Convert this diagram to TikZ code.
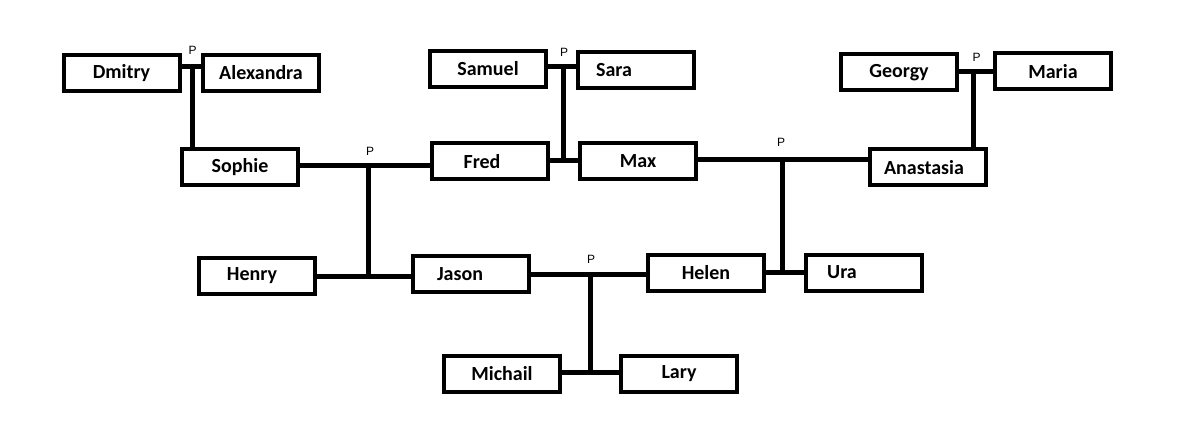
\documentclass[tikz,border=0pt]{standalone}
\usepackage{fontspec}
\setmainfont{Carlito}
\newfontfamily\plabelfont{Liberation Sans}
\usepackage{tikz}
\usetikzlibrary{calc}

\begin{document}
\begin{tikzpicture}[x=1pt,y=-1pt,
  person/.style={draw,line width=4pt,minimum width=116pt,minimum height=36pt,inner sep=0pt,font=\fontsize{20}{22}\selectfont\bfseries},
  link/.style={line width=5pt},
  plabel/.style={inner sep=0pt,font=\fontsize{12}{13}\plabelfont}]
\useasboundingbox (0,0) rectangle (1178,422);
% people
\node[person] (dmitry) at (121.5,73) {Dmitry};
\node[person] (alexandra) at (261,73) {Alexandra};
\node[person] (sophie) at (240,167.5) {Sophie};
\node[person] (samuel) at (488,69) {Samuel};
\node[person] (sara) at (636,70.5) {Sara\kern44pt};
\node[person] (fred) at (490,161.5) {Fred\kern16pt};
\node[person] (max) at (638,161.5) {Max};
\node[person] (georgy) at (899,72.5) {Georgy};
\node[person] (maria) at (1053,71.5) {Maria};
\node[person] (anastasia) at (928,167.5) {Anastasia\kern8pt};
\node[person] (henry) at (257,276) {Henry\kern10pt};
\node[person] (jason) at (471,274) {Jason\kern22pt};
\node[person] (helen) at (706,272.5) {Helen};
\node[person] (ura) at (864,272.5) {Ura\kern44pt};
\node[person] (michail) at (502,374) {Michail};
\node[person] (lary) at (679,374) {Lary};
% couples and children
\coordinate (j1) at (192,67);
\coordinate (j2) at (563,67);
\coordinate (k2) at (563,161);
\coordinate (j3) at (973,72);
\coordinate (j4) at (368,166);
\coordinate (k4) at (368,276);
\coordinate (j5) at (782,160);
\coordinate (k5) at (782,272);
\coordinate (j6) at (590,274);
\coordinate (k6) at (590,372);
\node[plabel] (p1) at (192.5,50) {P};
\node[plabel] (p2) at (564,52.5) {P};
\node[plabel] (p3) at (976.5,57) {P};
\node[plabel] (p4) at (370,151) {P};
\node[plabel] (p5) at (781,142.5) {P};
\node[plabel] (p6) at (591,259) {P};
\draw[link] (dmitry.east |- j1) -- (alexandra.west |- j1);
\draw[link] (j1) -- (sophie.north -| j1);
\draw[link] (samuel.east |- j2) -- (sara.west |- j2);
\draw[link] (j2) -- (k2);
\draw[link] (fred.east |- k2) -- (max.west |- k2);
\draw[link] (georgy.east |- j3) -- (maria.west |- j3);
\draw[link] (j3) -- (anastasia.north -| j3);
\draw[link] (sophie.east |- j4) -- (fred.west |- j4);
\draw[link] (j4) -- (k4);
\draw[link] (henry.east |- k4) -- (jason.west |- k4);
\draw[link] (max.east |- j5) -- (anastasia.west |- j5);
\draw[link] (j5) -- (k5);
\draw[link] (helen.east |- k5) -- (ura.west |- k5);
\draw[link] (jason.east |- j6) -- (helen.west |- j6);
\draw[link] (j6) -- (k6);
\draw[link] (michail.east |- k6) -- (lary.west |- k6);
\end{tikzpicture}
\end{document}
